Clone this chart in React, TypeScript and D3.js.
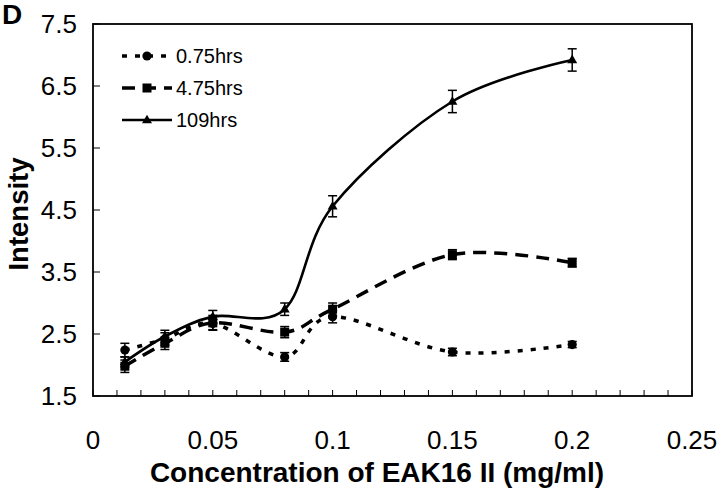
import React from "react";
import * as d3 from "d3";

const concentrations = [0.0133, 0.03, 0.05, 0.08, 0.1, 0.15, 0.2];
const hrs075 = [2.24, 2.42, 2.67, 2.13, 2.78, 2.21, 2.33];
const err075 = [0.11, 0.1, 0.1, 0.07, 0.1, 0.06, 0.05];
const hrs475 = [1.98, 2.35, 2.68, 2.53, 2.9, 3.78, 3.65];
const err475 = [0.1, 0.1, 0.12, 0.09, 0.1, 0.08, 0.07];
const hrs109 = [2.05, 2.46, 2.78, 2.9, 4.56, 6.25, 6.92];
const err109 = [0.08, 0.1, 0.1, 0.1, 0.17, 0.18, 0.18];

const seriesNames = ["0.75hrs", "4.75hrs", "109hrs"];
const xTickValues = [0, 0.05, 0.1, 0.15, 0.2, 0.25];
const xTickLabels = ["0", "0.05", "0.1", "0.15", "0.2", "0.25"];
const yTickValues = [1.5, 2.5, 3.5, 4.5, 5.5, 6.5, 7.5];
const yTickLabels = ["1.5", "2.5", "3.5", "4.5", "5.5", "6.5", "7.5"];

const W = 720;
const H = 498;
const L = 93, R = 692, T = 24, B = 396;
const FONT = "'Liberation Sans', Arial, Helvetica, sans-serif";

const x = d3.scaleLinear().domain([0, 0.25]).range([L, R]);
const y = d3.scaleLinear().domain([1.5, 7.5]).range([B, T]);

type Series = {
  name: string;
  vals: number[];
  errs: number[];
  dash: string | undefined;
  width: number;
  marker: "circle" | "square" | "triangle";
};

const series: Series[] = [
  { name: seriesNames[0], vals: hrs075, errs: err075, dash: "5,8", width: 3.5, marker: "circle" },
  { name: seriesNames[1], vals: hrs475, errs: err475, dash: "13,8", width: 3.5, marker: "square" },
  { name: seriesNames[2], vals: hrs109, errs: err109, dash: undefined, width: 2.6, marker: "triangle" },
];

function Marker({ kind, cx, cy }: { kind: string; cx: number; cy: number }) {
  if (kind === "circle") return <circle cx={cx} cy={cy} r={4.6} fill="#000" />;
  if (kind === "square") return <rect x={cx - 4.5} y={cy - 4.5} width={9} height={9} fill="#000" />;
  const s = 10;
  const h = s * 0.866;
  return (
    <path
      d={`M${cx},${cy - h * 0.62}L${cx + s / 2},${cy + h * 0.38}L${cx - s / 2},${cy + h * 0.38}Z`}
      fill="#000"
    />
  );
}

export default function App() {
  const line = d3
    .line<number>()
    .x((_, i) => x(concentrations[i]))
    .y((d) => y(d))
    .curve(d3.curveCardinal.tension(0));

  const minorTicks = d3.range(0, 26).map((i) => i * 0.01);

  return (
    <svg
      width={W}
      height={H}
      style={{ position: "absolute", left: 0, top: 0, background: "#fff" }}
      fontFamily={FONT}
    >
      <rect x={0} y={0} width={W} height={H} fill="#fff" />
      {/* frame */}
      <rect x={L} y={T} width={R - L} height={B - T} fill="none" stroke="#000" strokeWidth={1.8} />
      {/* x ticks */}
      {minorTicks.map((t, i) => (
        <line key={"xt" + i} x1={x(t)} x2={x(t)} y1={B} y2={B - 6} stroke="#000" strokeWidth={1} />
      ))}
      {/* y ticks */}
      {yTickValues.map((t, i) => (
        <line key={"yt" + i} x1={L} x2={L + 7} y1={y(t)} y2={y(t)} stroke="#000" strokeWidth={1} />
      ))}
      {/* x tick labels */}
      {xTickValues.map((t, i) => (
        <text key={"xl" + i} x={x(t)} y={449} textAnchor="middle" fontSize={26} fill="#000">
          {xTickLabels[i]}
        </text>
      ))}
      {/* y tick labels */}
      {yTickValues.map((t, i) => (
        <text key={"yl" + i} x={77} y={y(t)} dy="0.36em" textAnchor="end" fontSize={26} fill="#000">
          {yTickLabels[i]}
        </text>
      ))}
      {/* axis titles */}
      <text x={377} y={482} textAnchor="middle" fontSize={28} fontWeight="bold" fill="#000">
        Concentration of EAK16 II (mg/ml)
      </text>
      <text
        transform={`translate(28,${214}) rotate(-90)`}
        textAnchor="middle"
        fontSize={27.5}
        fontWeight="bold"
        fill="#000"
      >
        Intensity
      </text>
      <text x={2} y={24} fontSize={28} fontWeight="bold" fill="#000">
        D
      </text>

      {/* lines */}
      {series.map((s) => (
        <path
          key={"ln" + s.name}
          d={line(s.vals) || ""}
          fill="none"
          stroke="#000"
          strokeWidth={s.width}
          strokeDasharray={s.dash}
        />
      ))}
      {/* error bars */}
      {series.map((s) =>
        s.vals.map((v, i) => {
          const cx = x(concentrations[i]);
          const y1 = y(v + s.errs[i]);
          const y2 = y(v - s.errs[i]);
          return (
            <g key={"eb" + s.name + i} stroke="#000" strokeWidth={1.5}>
              <line x1={cx} x2={cx} y1={y1} y2={y2} />
              <line x1={cx - 4.5} x2={cx + 4.5} y1={y1} y2={y1} />
              <line x1={cx - 4.5} x2={cx + 4.5} y1={y2} y2={y2} />
            </g>
          );
        })
      )}
      {/* markers */}
      {series.map((s) =>
        s.vals.map((v, i) => (
          <Marker key={"mk" + s.name + i} kind={s.marker} cx={x(concentrations[i])} cy={y(v)} />
        ))
      )}

      {/* legend */}
      {series.map((s, i) => {
        const ly = 56 + i * 32;
        return (
          <g key={"lg" + s.name}>
            <line
              x1={122}
              x2={172}
              y1={ly}
              y2={ly}
              stroke="#000"
              strokeWidth={s.width}
              strokeDasharray={s.dash}
            />
            <Marker kind={s.marker} cx={147} cy={ly} />
            <text x={176} y={ly} dy="0.36em" fontSize={20} fill="#000">
              {s.name}
            </text>
          </g>
        );
      })}
    </svg>
  );
}
